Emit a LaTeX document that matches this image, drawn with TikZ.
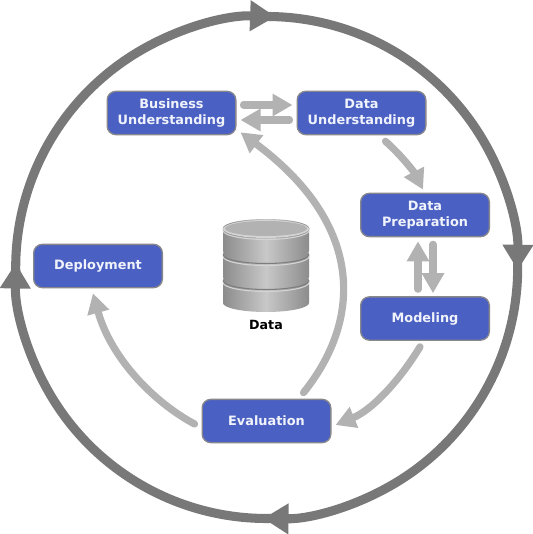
\documentclass[tikz,border=0pt]{standalone}
\usepackage{fontspec}
\setmainfont{DejaVu Sans}
\usetikzlibrary{positioning,arrows.meta,calc}
\definecolor{PhaseBlue}{RGB}{74,96,194}
\definecolor{PhaseEdge}{RGB}{135,135,140}
\definecolor{PhaseText}{RGB}{240,243,252}
\definecolor{FlowGray}{RGB}{178,178,178}
\definecolor{CycleGray}{RGB}{120,120,120}
\definecolor{DiskDark}{RGB}{140,140,140}
\definecolor{DiskMid}{RGB}{200,200,200}
\definecolor{DiskTop}{RGB}{178,178,178}
\definecolor{DiskRim}{RGB}{212,212,212}
\definecolor{DiskGap}{RGB}{125,125,125}
\tikzset{
	phase/.style={draw=PhaseEdge,fill=PhaseBlue,line width=1pt,rounded corners=6.5pt,
		minimum width=96.5pt,minimum height=32.5pt,inner sep=0pt,align=center,
		font=\bfseries\fontsize{9.65}{12}\selectfont,text=PhaseText},
	flowarrow/.style={FlowGray,line width=5.4pt,line cap=round,-{Triangle[length=15pt,width=16pt]}},
	cyclearrow/.style={CycleGray,line width=6.8pt,-{Triangle[length=19pt,width=22pt]}}
}
\begin{document}
\begin{tikzpicture}[x=0.75pt,y=-0.75pt]
	\useasboundingbox (0,0) rectangle (532,534);
	\fill[white] (0,0) rectangle (532,534);
	
	% lingkaran luar
	\coordinate (hub) at (266.7,267.5);
	\foreach \from/\to in {269/360.6,357.6/450.8,87.8/181,178/272}{
		\draw[cyclearrow] ([shift={(\from:251)}]hub) arc[start angle=\from,end angle=\to,radius=251];
	}
	
	% fase
	\node[phase] (BizUnd) at (171.5,113) {Business\\Understanding};
	\node[phase] (DatUnd) at (361.5,113) {Data\\Understanding};
	\node[phase] (DatPrep) at (425,215) {Data\\Preparation};
	\node[phase] (Model) at (425,318.5) {Modeling};
	\node[phase] (Eval) at (266.5,421) {Evaluation};
	\node[phase] (Deploy) at (98,266) {Deployment};
	
	% panah antar fase
	\draw[flowarrow] ([shift={(7,-8)}]BizUnd.east) -- ([shift={(-4,-8)}]DatUnd.west);
	\draw[flowarrow] ([shift={(-7,7)}]DatUnd.west) -- ([shift={(4,7)}]BizUnd.east);
	\draw[flowarrow] ([shift={(24,6)}]DatUnd.south) .. controls (402,156) and (414,172) .. ([shift={(-2,-3)}]DatPrep.north);
	\draw[flowarrow] ([shift={(-7,-7)}]Model.north) -- ([shift={(-7,4)}]DatPrep.south);
	\draw[flowarrow] ([shift={(8,7)}]DatPrep.south) -- ([shift={(8,-3)}]Model.north);
	\draw[flowarrow] ([shift={(-5,6)}]Model.south) .. controls (400,380) and (372,410) .. ([shift={(4,4)}]Eval.east);
	\draw[flowarrow] ([shift={(-7,3)}]Eval.west) .. controls (150,400) and (110,355) .. ([shift={(-5,5)}]Deploy.south);
	\draw[flowarrow] ([shift={(37,-6)}]Eval.north) .. controls (362,320) and (365,225) .. ([shift={(4,-3)}]BizUnd.south east);
	
	% tumpukan data
	\foreach \ytop in {280,254,228}{
		\shade[left color=DiskDark,right color=DiskDark,middle color=DiskMid]
		(223,\ytop) -- (223,\ytop+23) arc[start angle=180,end angle=0,x radius=43,y radius=9]
		-- (309,\ytop) arc[start angle=360,end angle=180,x radius=43,y radius=9] -- cycle;
		\draw[DiskGap,line width=0.8pt] (223,\ytop+0.5) arc[start angle=180,end angle=0,x radius=43,y radius=9];
		\draw[DiskRim,line width=0.8pt] (223,\ytop+2.5) arc[start angle=180,end angle=0,x radius=43,y radius=9];
	}
	\fill[DiskRim] (266,229) ellipse[x radius=43,y radius=9];
	\fill[DiskTop] (266,228.5) ellipse[x radius=41,y radius=7.5];
	\node[font=\bfseries\fontsize{9.5}{11}\selectfont,text=black] (DataLabel) at (266,325) {Data};
\end{tikzpicture}
\end{document}
